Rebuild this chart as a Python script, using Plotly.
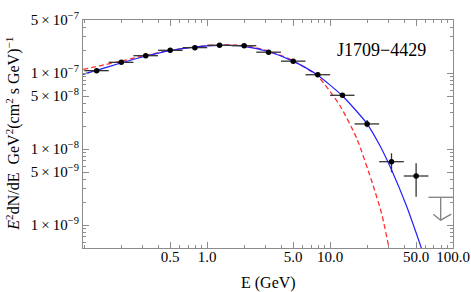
import plotly.graph_objects as go

# ---- data ----
energy = [0.126, 0.2, 0.316, 0.5, 0.794, 1.26, 2.0, 3.16, 5.01, 7.94, 12.6, 20.0, 31.6, 50.1]
e_low = [0.1, 0.158, 0.251, 0.398, 0.631, 1.0, 1.58, 2.51, 3.98, 6.31, 10.0, 15.8, 25.1, 39.8]
e_high = [0.158, 0.251, 0.398, 0.631, 1.0, 1.58, 2.51, 3.98, 6.31, 10.0, 15.8, 25.1, 39.8, 63.1]
flux = [1.08e-7, 1.39e-7, 1.70e-7, 2.00e-7, 2.17e-7, 2.33e-7, 2.30e-7, 1.89e-7,
        1.44e-7, 9.55e-8, 5.12e-8, 2.15e-8, 6.85e-9, 4.44e-9]
flux_hi = [1.11e-7, 1.42e-7, 1.73e-7, 2.03e-7, 2.20e-7, 2.36e-7, 2.34e-7, 1.93e-7,
           1.48e-7, 9.9e-8, 5.4e-8, 2.42e-8, 8.83e-9, 6.52e-9]
flux_lo = [1.05e-7, 1.36e-7, 1.67e-7, 1.97e-7, 2.14e-7, 2.30e-7, 2.26e-7, 1.85e-7,
           1.40e-7, 9.2e-8, 4.85e-8, 1.94e-8, 4.97e-9, 2.37e-9]

ul_energy = [79.4]
ul_low = [63.1]
ul_high = [100.0]
ul_flux = [2.33e-9]

blue_e = [0.0976, 0.124, 0.195, 0.312, 0.498, 0.780, 1.245, 1.977, 3.13, 4.98, 7.83,
          12.45, 19.8, 25.4, 31.6, 41.8, 55.3, 60.3]
blue_f = [9.66e-8, 1.08e-7, 1.35e-7, 1.67e-7, 1.98e-7, 2.21e-7, 2.33e-7, 2.26e-7, 1.93e-7,
          1.44e-7, 9.55e-8, 5.12e-8, 2.21e-8, 1.12e-8, 5.37e-9, 1.80e-9, 5.0e-10, 3.3e-10]

red_e = [0.0976, 0.195, 0.312, 0.498, 0.780, 1.245, 1.977, 3.13, 4.99, 7.98, 12.0,
         16.5, 22.2, 26.3, 30.2, 31.6]
red_f = [1.12e-7, 1.43e-7, 1.71e-7, 1.99e-7, 2.22e-7, 2.36e-7, 2.32e-7, 1.97e-7, 1.47e-7,
         9.0e-8, 3.76e-8, 1.38e-8, 3.47e-9, 1.41e-9, 4.97e-10, 3.5e-10]

x_tick_vals = [0.5, 1.0, 5.0, 10.0, 50.0, 100.0]
x_tick_text = ["0.5", "1.0", "5.0", "10.0", "50.0", "100.0"]
y_tick_vals = [1e-9, 5e-9, 1e-8, 5e-8, 1e-7, 5e-7]
y_tick_text = ["1\u2009×\u200910<sup>−9</sup>", "5\u2009×\u200910<sup>−9</sup>",
               "1\u2009×\u200910<sup>−8</sup>", "5\u2009×\u200910<sup>−8</sup>",
               "1\u2009×\u200910<sup>−7</sup>", "5\u2009×\u200910<sup>−7</sup>"]

FONT = "Liberation Serif"
FRAME = "#8c8c8c"
BAR = "#333333"

x_minor = [m * d for d in (0.1, 1.0, 10.0) for m in range(1, 10)
           if round(m * d, 6) not in x_tick_vals]
y_minor = [m * d for d in (1e-10, 1e-9, 1e-8, 1e-7) for m in range(1, 10)
           if not any(abs(m * d - v) / v < 1e-6 for v in y_tick_vals)]

fig = go.Figure()

fig.add_trace(go.Scatter(x=red_e, y=red_f, mode="lines",
                         line=dict(color="#ff3030", width=1.3, dash="5px,3px", shape="spline", smoothing=0.6),
                         hoverinfo="skip"))
fig.add_trace(go.Scatter(x=blue_e, y=blue_f, mode="lines",
                         line=dict(color="#2020ff", width=1.2, shape="spline", smoothing=0.6),
                         hoverinfo="skip"))

fig.add_trace(go.Scatter(
    x=energy, y=flux, mode="markers",
    marker=dict(color="black", size=5.5),
    error_x=dict(type="data", symmetric=False,
                 array=[h - e for h, e in zip(e_high, energy)],
                 arrayminus=[e - l for e, l in zip(energy, e_low)],
                 color=BAR, thickness=1.3, width=0),
    error_y=dict(type="data", symmetric=False,
                 array=[h - f for h, f in zip(flux_hi, flux)],
                 arrayminus=[f - l for f, l in zip(flux, flux_lo)],
                 color=BAR, thickness=1.3, width=0),
))

# upper limit: horizontal bar, vertical stem, open arrowhead
UL_COL = "#808080"
for e, lo, hi, f in zip(ul_energy, ul_low, ul_high, ul_flux):
    fig.add_trace(go.Scatter(x=[lo, hi], y=[f, f], mode="lines",
                             line=dict(color=UL_COL, width=1.3), hoverinfo="skip"))
    fig.add_trace(go.Scatter(x=[e, e], y=[f, f * 0.5], mode="lines",
                             line=dict(color=UL_COL, width=1.3), hoverinfo="skip"))
    fig.add_trace(go.Scatter(x=[e * 0.87, e, e * 1.22], y=[f * 0.6, f * 0.5, f * 0.6], mode="lines",
                             line=dict(color=UL_COL, width=1.3), hoverinfo="skip"))

fig.add_annotation(x=0.808, y=0.868, xref="paper", yref="paper", text="J1709−4429",
                   xanchor="center", yanchor="middle",
                   showarrow=False, font=dict(family=FONT, size=18, color="black"))
fig.add_annotation(x=0.5, y=-0.153, xref="paper", yref="paper", text="E (GeV)",
                   xanchor="center", yanchor="middle",
                   showarrow=False, font=dict(family=FONT, size=16, color="black"))
fig.add_annotation(x=-0.19, y=0.5, xref="paper", yref="paper", textangle=-90,
                   text="<i>E</i><sup>2</sup>dN/dE  GeV<sup>2</sup>(cm<sup>2</sup> s GeV)<sup>−1</sup>",
                   xanchor="center", yanchor="middle",
                   showarrow=False, font=dict(family=FONT, size=16, color="black"))

axis_common = dict(showline=True, linecolor=FRAME, linewidth=1, mirror="allticks",
                   ticks="inside", tickcolor=FRAME, ticklen=6, showgrid=False, zeroline=False,
                   automargin=False,
                   tickfont=dict(family=FONT, size=15, color="black"))

fig.update_xaxes(type="log", range=[-1.0106, 2.0], tickmode="array",
                 tickvals=x_tick_vals, ticktext=x_tick_text, ticklabelstandoff=-5,
                 ticklabeloverflow="allow",
                 minor=dict(tickmode="array", tickvals=x_minor, ticks="inside", ticklen=3,
                            tickcolor=FRAME, showgrid=False),
                 **axis_common)
fig.update_yaxes(type="log", range=[-9.3, -6.3], tickmode="array",
                 tickvals=y_tick_vals, ticktext=y_tick_text,
                 minor=dict(tickmode="array", tickvals=y_minor, ticks="inside", ticklen=3,
                            tickcolor=FRAME, showgrid=False),
                 **axis_common)

fig.update_layout(width=471, height=292, margin=dict(l=83, r=18, t=20, b=44),
                  paper_bgcolor="white", plot_bgcolor="white", showlegend=False,
                  hovermode=False,
                  font=dict(family=FONT, color="black"))

# remove the browser's default 8px body margin so the figure fills the window exactly
fig.write_html("out.html", config={"displayModeBar": False, "staticPlot": True},
               post_script="document.body.style.margin='0';document.body.style.overflow='hidden';")
